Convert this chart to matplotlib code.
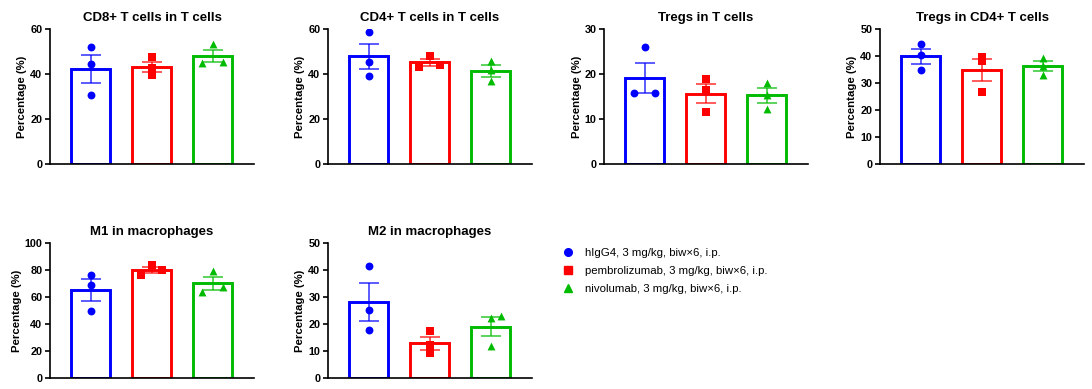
import numpy as np
import matplotlib as mpl
mpl.use('Agg')
import matplotlib.pyplot as plt
from matplotlib.lines import Line2D

plt.rcParams['font.family'] = ['Liberation Sans', 'DejaVu Sans']

'''
per panel: 3 mice per group, bar = mean, error bar = SEM
'''
groups = ['hIgG4, 3 mg/kg, biw\u00d76, i.p.',
          'pembrolizumab, 3 mg/kg, biw\u00d76, i.p.',
          'nivolumab, 3 mg/kg, biw\u00d76, i.p.']
colors = ['#0000ff', '#ff0000', '#00bb00']
markers = ['o', 's', '^']

titles = ['CD8+ T cells in T cells', 'CD4+ T cells in T cells', 'Tregs in T cells',
          'Tregs in CD4+ T cells', 'M1 in macrophages', 'M2 in macrophages']
ymax = [60, 60, 30, 50, 100, 50]
ystep = [20, 20, 10, 10, 20, 10]

cd8 = [[51.9, 44.6, 30.7], [47.5, 42.5, 39.5], [53.3, 45.0, 45.5]]
cd4 = [[58.7, 45.5, 39.3], [48.0, 43.3, 44.1], [45.8, 41.8, 36.7]]
treg_t = [[25.9, 15.85, 15.85], [18.9, 16.5, 11.5], [18.1, 15.4, 12.2]]
treg_cd4 = [[44.3, 40.4, 35.0], [39.6, 38.0, 26.5], [39.4, 36.2, 33.0]]
m1 = [[76.5, 69.1, 49.5], [83.9, 76.2, 80.2], [79.2, 63.6, 67.6]]
m2 = [[41.5, 25.2, 17.9], [17.3, 12.1, 9.2], [22.4, 23.0, 11.8]]
panels = [cd8, cd4, treg_t, treg_cd4, m1, m2]

# horizontal scatter of the dots (-1 left, 0 centre, 1 right)
jitter = [
    [[0, 0, 0], [0, 0, 0], [0, -1, 1]],
    [[0, 0, 0], [0, -1, 1], [0, 0, 0]],
    [[0, -1, 1], [0, 0, 0], [0, 0, 0]],
    [[0, 0, 0], [0, 0, 0], [0, 0, 0]],
    [[0, 0, 0], [0, -1, 1], [0, -1, 1]],
    [[0, 0, 0], [0, 0, 0], [0, 1, 0]],
]
spread = 0.175

fig = plt.figure(figsize=(10.92, 3.89), dpi=100)
W, H = 1092.0, 389.0
lefts = [50, 328, 604, 880, 50, 328]
tops = [29, 29, 29, 29, 243, 243]
aw, ah = 204, 135

for k in range(6):
    ax = fig.add_axes([lefts[k] / W, 1 - (tops[k] + ah) / H, aw / W, ah / H])
    for g in range(3):
        vals = np.array(panels[k][g])
        m = vals.mean()
        sem = vals.std(ddof=1) / np.sqrt(len(vals))
        ax.bar(g, m, width=0.64, facecolor='white', edgecolor=colors[g],
               linewidth=2.1, zorder=2)
        ax.errorbar(g, m, yerr=sem, color=colors[g], capsize=7.5, elinewidth=1.2,
                    capthick=1.2, zorder=3, alpha=0.75)
        xs = g + spread * np.array(jitter[k][g])
        ax.scatter(xs, vals, s=32, color=colors[g], marker=markers[g],
                   zorder=4, linewidths=0)
    ax.set_xlim(-0.67, 2.68)
    ax.set_ylim(0, ymax[k])
    ax.set_yticks(np.arange(0, ymax[k] + 1, ystep[k]))
    ax.set_xticks([])
    for s in ['top', 'right']:
        ax.spines[s].set_visible(False)
    ax.spines['left'].set_linewidth(1.2)
    ax.spines['bottom'].set_linewidth(1.2)
    ax.tick_params(axis='y', length=3.5, width=1.2, labelsize=7.8, pad=2)
    for lab in ax.get_yticklabels():
        lab.set_fontweight('bold')
    ax.set_ylabel('Percentage (%)', fontsize=8.2, fontweight='bold', labelpad=2)
    ax.set_title(titles[k], fontsize=9.5, fontweight='bold', pad=6)
    for sp in ax.spines.values():
        sp.set_clip_on(False)

handles = [Line2D([], [], linestyle='none', marker=markers[g], color=colors[g],
                  markersize=5.5) for g in range(3)]
fig.legend(handles, groups, loc='upper left', bbox_to_anchor=(555 / W, 1 - 243 / H),
           frameon=False, fontsize=8.2, handletextpad=0.75, labelspacing=0.72,
           borderaxespad=0, handlelength=1.5)

plt.savefig('out.png', dpi=100)
